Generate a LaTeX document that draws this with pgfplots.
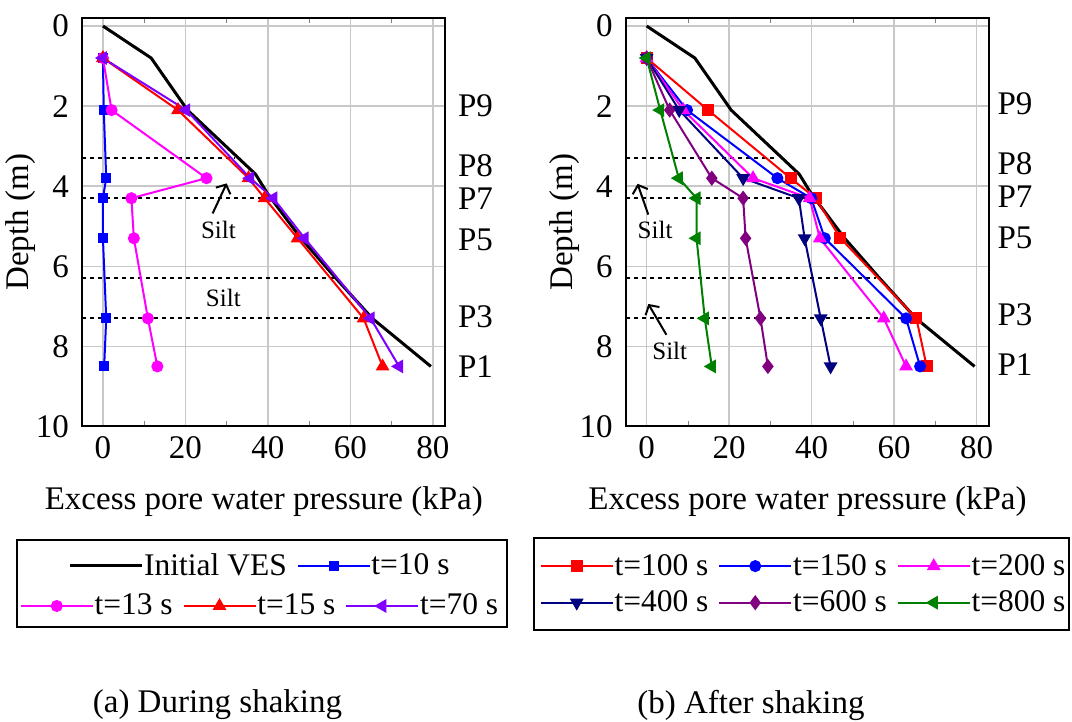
\documentclass[border=0pt]{standalone}
\usepackage{fontspec}
\setmainfont{Liberation Serif}
\usepackage{pgfplots}
\pgfplotsset{compat=1.18}
\usetikzlibrary{arrows.meta}

\definecolor{cBlue}{RGB}{0,0,255}
\definecolor{cMag}{RGB}{255,0,255}
\definecolor{cRed}{RGB}{255,0,0}
\definecolor{cViolet}{RGB}{127,0,255}
\definecolor{cNavy}{RGB}{0,0,128}
\definecolor{cPurple}{RGB}{128,0,128}
\definecolor{cGreen}{RGB}{0,128,0}
\definecolor{cGrid}{RGB}{200,200,200}

\newcommand{\fs}{\fontsize{16.5}{19.5}\selectfont}
\newcommand{\fsl}{\fontsize{15.75}{18.5}\selectfont}
\newcommand{\fss}{\fontsize{12.5}{14.5}\selectfont}

\tikzset{
  plab/.style={anchor=west, inner sep=0pt, font=\fs},
  siltarrow/.style={line width=1pt, -{Straight Barb[length=3.5pt,width=8pt]}},
}

\pgfplotsset{
  depthaxis/.style={
    scale only axis, width=181.5pt, height=204.25pt,
    xmin=-5, xmax=83, ymin=-0.2, ymax=10, y dir=reverse,
    xtick={0,20,...,80}, ytick={0,2,...,10},
    minor xtick={10,30,50,70},
    major tick length=0pt, minor tick length=2.5pt,
    tick align=inside,
    xmajorgrids, ymajorgrids,
    major grid style={cGrid, line width=0.75pt},
    axis line style={line width=1pt},
    font=\fs,
    /pgf/number format/assume math mode=true,
    xticklabel style={inner sep=0pt, yshift=-5pt},
    yticklabel style={inner sep=0pt, xshift=-6.5pt},
    xlabel={Excess pore water pressure (kPa)},
    ylabel={Depth (m)},
    xlabel style={yshift=-10pt},
    ylabel style={at={(axis description cs:-0.169,0.5)}, anchor=center},
    clip=false,
  },
  ves/.style={black, line width=1.5pt, no markers},
  sep/.style={black, line width=1pt, dash pattern=on 2pt off 2pt, forget plot, no markers},
  ser/.style={#1, line width=1pt, mark options={solid, fill=#1}},
  hiddenlegend/.style={
    hide axis, scale only axis, width=1pt, height=1pt, anchor=center,
    xmin=0, xmax=1, ymin=0, ymax=1,
    legend style={at={(0.5,0.5)}, anchor=center, draw=none, fill=none,
      font=\fsl, inner sep=0pt, row sep=5.5pt,
      nodes={inner sep=0.4pt},
      /tikz/every even column/.append style={column sep=4.5pt}},
    legend cell align=left,
  },
}

\begin{document}
\begin{tikzpicture}
\useasboundingbox (0,0) rectangle (536pt,361pt);

% ---------------- (a) During shaking ----------------
\begin{axis}[depthaxis, at={(41.15pt,147.75pt)}, anchor=south west]
  \addplot[sep] coordinates {(-5,3.3) (32,3.3)};
  \addplot[sep] coordinates {(-5,4.3) (41,4.3)};
  \addplot[sep] coordinates {(-5,6.3) (56.5,6.3)};
  \addplot[sep] coordinates {(-5,7.3) (64,7.3)};

  \addplot[ves] coordinates {(0,0) (11.7,0.8) (20.5,2.1) (37,3.7) (40,4.2) (48,5.3) (56.5,6.3) (65.3,7.3) (79.5,8.5)};
  \addplot[ser=cBlue, mark=square*, mark size=2pt] coordinates {(0,0.8) (0.2,2.1) (0.8,3.8) (0,4.3) (0,5.3) (0.8,7.3) (0.3,8.5)};
  \addplot[ser=cMag, mark=*, mark size=2.5pt] coordinates {(0,0.8) (2.1,2.1) (25.1,3.8) (6.9,4.3) (7.5,5.3) (10.9,7.3) (13.2,8.5)};
  \addplot[ser=cRed, mark=triangle*, mark size=3pt] coordinates {(0,0.8) (18.2,2.1) (35.3,3.8) (39.2,4.3) (47.2,5.3) (63.2,7.3) (67.8,8.5)};
  \addplot[ser=cViolet, mark=triangle*, mark size=3pt, mark options={rotate=90}] coordinates {(0,0.8) (20.2,2.1) (35.7,3.8) (41.3,4.3) (48.9,5.3) (64.9,7.3) (71.8,8.5)};

  \node[font=\fss] at (axis cs:28,5.08) {Silt};
  \draw[siltarrow] (axis cs:26.6,4.68) -- (axis cs:30,3.93);
  \node[font=\fss] at (axis cs:29.2,6.79) {Silt};

  \node[plab] at (axis cs:86,2.0) {P9};
  \node[plab] at (axis cs:86,3.5) {P8};
  \node[plab] at (axis cs:86,4.3) {P7};
  \node[plab] at (axis cs:86,5.35) {P5};
  \node[plab] at (axis cs:86,7.25) {P3};
  \node[plab] at (axis cs:86,8.5) {P1};
\end{axis}

% ---------------- (b) After shaking ----------------
\begin{axis}[depthaxis, at={(313pt,147.75pt)}, anchor=south west]
  \addplot[sep] coordinates {(-5,3.3) (31,3.3)};
  \addplot[sep] coordinates {(-5,4.3) (40,4.3)};
  \addplot[sep] coordinates {(-5,6.3) (55.7,6.3)};
  \addplot[sep] coordinates {(-5,7.3) (64.5,7.3)};

  \addplot[ves] coordinates {(0,0) (11.7,0.8) (20.5,2.1) (37,3.7) (40,4.2) (48,5.3) (56.5,6.3) (65.3,7.3) (79.5,8.5)};
  \addplot[ser=cRed, mark=square*, mark size=2.5pt] coordinates {(0,0.8) (14.9,2.1) (34.9,3.8) (41.0,4.3) (47.0,5.3) (65.4,7.3) (67.9,8.5)};
  \addplot[ser=cBlue, mark=*, mark size=2.5pt] coordinates {(0,0.8) (9.8,2.1) (31.7,3.8) (39.9,4.3) (43.2,5.3) (62.9,7.3) (66.3,8.5)};
  \addplot[ser=cMag, mark=triangle*, mark size=3pt] coordinates {(0,0.8) (8.9,2.1) (25.8,3.8) (39.5,4.3) (42.0,5.3) (57.5,7.3) (62.9,8.5)};
  \addplot[ser=cNavy, mark=triangle*, mark size=3pt, mark options={rotate=180}] coordinates {(0,0.8) (7.9,2.1) (23.4,3.8) (36.9,4.3) (38.3,5.3) (42.2,7.3) (44.6,8.5)};
  \addplot[ser=cPurple, mark=diamond*, mark size=3pt] coordinates {(0,0.8) (5.6,2.1) (15.8,3.8) (23.4,4.3) (24.0,5.3) (27.6,7.3) (29.4,8.5)};
  \addplot[ser=cGreen, mark=triangle*, mark size=3pt, mark options={rotate=90}] coordinates {(0,0.8) (3.3,2.1) (7.8,3.8) (12.1,4.3) (12.1,5.3) (14.1,7.3) (15.8,8.5)};

  \node[font=\fss] at (axis cs:2.05,5.1) {Silt};
  \draw[siltarrow] (axis cs:0.4,4.71) -- (axis cs:-2.2,3.94);
  \node[font=\fss] at (axis cs:5.6,8.12) {Silt};
  \draw[siltarrow] (axis cs:4.8,7.71) -- (axis cs:0.4,6.94);

  \node[plab] at (axis cs:85,1.95) {P9};
  \node[plab] at (axis cs:85,3.45) {P8};
  \node[plab] at (axis cs:85,4.25) {P7};
  \node[plab] at (axis cs:85,5.3) {P5};
  \node[plab] at (axis cs:85,7.2) {P3};
  \node[plab] at (axis cs:85,8.45) {P1};
\end{axis}

% ---------------- legends ----------------
\draw[line width=1pt] (8.5pt,47.5pt) rectangle (253.5pt,91pt);
\draw[line width=1pt] (267pt,46pt) rectangle (534.5pt,92pt);

\begin{axis}[hiddenlegend, at={(129.7pt,78pt)}, legend columns=-1,
  legend image code/.code={\draw[mark repeat=2,mark phase=2,#1] plot coordinates {(0pt,0pt) (18pt,0pt) (36pt,0pt)};}]
  \addlegendimage{ves}
  \addlegendentry{Initial VES}
  \addlegendimage{ser=cBlue, mark=square*, mark size=2pt}
  \addlegendentry{t=10 s}
\end{axis}

\begin{axis}[hiddenlegend, at={(129.7pt,58pt)}, legend columns=-1,
  legend image code/.code={\draw[mark repeat=2,mark phase=2,#1] plot coordinates {(0pt,0pt) (18pt,0pt) (36pt,0pt)};}]
  \addlegendimage{ser=cMag, mark=*, mark size=2.5pt}
  \addlegendentry{t=13 s}
  \addlegendimage{ser=cRed, mark=triangle*, mark size=3pt}
  \addlegendentry{t=15 s}
  \addlegendimage{ser=cViolet, mark=triangle*, mark size=3pt, mark options={rotate=90}}
  \addlegendentry{t=70 s}
\end{axis}

\begin{axis}[hiddenlegend, at={(401.5pt,68.8pt)}, legend columns=3,
  legend image code/.code={\draw[mark repeat=2,mark phase=2,#1] plot coordinates {(0pt,0pt) (18pt,0pt) (36pt,0pt)};}]
  \addlegendimage{ser=cRed, mark=square*, mark size=2.5pt}
  \addlegendentry{t=100 s}
  \addlegendimage{ser=cBlue, mark=*, mark size=2.5pt}
  \addlegendentry{t=150 s}
  \addlegendimage{ser=cMag, mark=triangle*, mark size=3pt}
  \addlegendentry{t=200 s}
  \addlegendimage{ser=cNavy, mark=triangle*, mark size=3pt, mark options={rotate=180}}
  \addlegendentry{t=400 s}
  \addlegendimage{ser=cPurple, mark=diamond*, mark size=3pt}
  \addlegendentry{t=600 s}
  \addlegendimage{ser=cGreen, mark=triangle*, mark size=3pt, mark options={rotate=90}}
  \addlegendentry{t=800 s}
\end{axis}

% ---------------- captions ----------------
\node[font=\fs] at (108.75pt,8.5pt) {(a) During shaking};
\node[font=\fs] at (375.5pt,8.5pt) {(b) After shaking};
\end{tikzpicture}
\end{document}
